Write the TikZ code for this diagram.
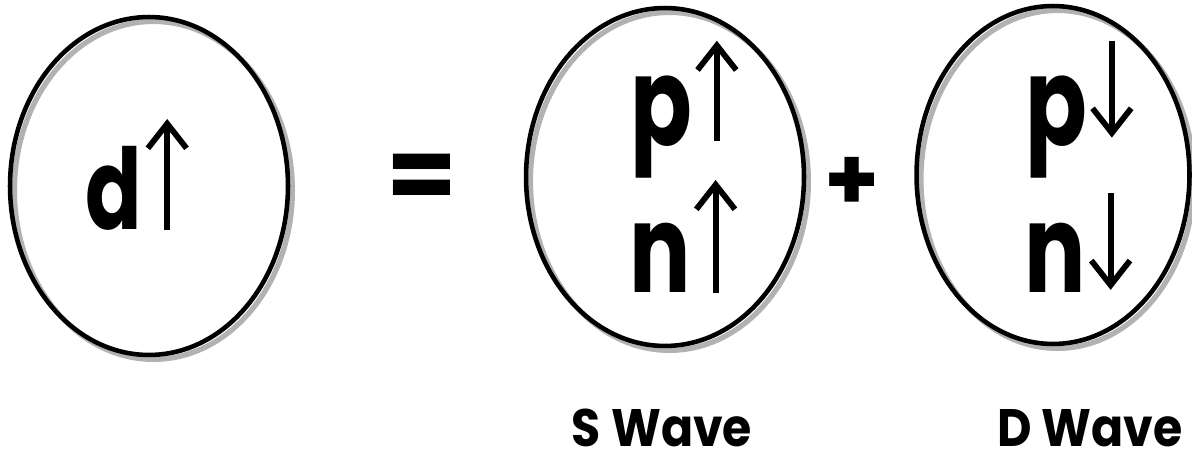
\documentclass[tikz,border=0pt]{standalone}
\usepackage{fontspec}
\setmainfont{Poppins}
\newfontfamily\letterfont{Poppins}[FakeStretch=0.74]
\newfontfamily\labelfont{Poppins}[FakeStretch=0.9]
\usetikzlibrary{shapes.geometric, arrows.meta, positioning}

\begin{document}
\begin{tikzpicture}[
    x=0.02cm, y=-0.02cm,
    nucleon/.style={ellipse, draw=black, line width=2.6pt, minimum width=5.56cm, minimum height=6.76cm, inner sep=0pt,
        preaction={draw=black!30, line width=3pt, transform canvas={shift={(2.5pt,-2.5pt)}}}},
    letter/.style={anchor=base, inner sep=0pt, font=\letterfont\fontsize{70}{70}\selectfont\bfseries},
    sym/.style={inner sep=0pt, font=\fontsize{58}{58}\selectfont\bfseries},
    spin/.style={line width=3.3pt, -{Straight Barb[length=14pt, width=22pt]}},
    caption/.style={anchor=base, inner sep=0pt, font=\labelfont\fontsize{30}{30}\selectfont\bfseries}
]
    \useasboundingbox (0,0) rectangle (1192,462);

    % Deuteron
    \node (deut) [nucleon] at (149,186) {};
    \node (dl) [letter, font=\letterfont\fontsize{64}{64}\selectfont\bfseries] at (114,230) {d};
    \draw [spin] ([xshift=14pt]dl.base east) -- ++(0,-111);

    \node (eq) [sym] at (422,182) {=};

    % S wave component
    \node (swave) [nucleon] at (665,177) {};
    \node (ps) [letter] at (661,146) {p};
    \node (ns) [letter] at (660,293) {n};
    \draw [spin] ([xshift=14pt, yshift=3pt]ps.base east) -- ++(0,-100);
    \draw [spin] ([xshift=14pt]ns.base east) -- ++(0,-113);

    \node (plus) [sym, font=\fontsize{50}{50}\selectfont\bfseries] at (852,184) {+};

    % D wave component
    \node (dwave) [nucleon, minimum width=5.46cm] at (1053,175) {};
    \node (pd) [letter] at (1056,146) {p};
    \node (nd) [letter] at (1055,293) {n};
    \draw [spin] ([xshift=14pt, yshift=60pt]pd.base east) -- ++(0,97);
    \draw [spin] ([xshift=14pt, yshift=57pt]nd.base east) -- ++(0,97);

    % Labels
    \node (slabel) [caption] at (662,446) {S Wave};
    \node (dlabel) [caption] at (1090,446) {D Wave};
\end{tikzpicture}
\end{document}
